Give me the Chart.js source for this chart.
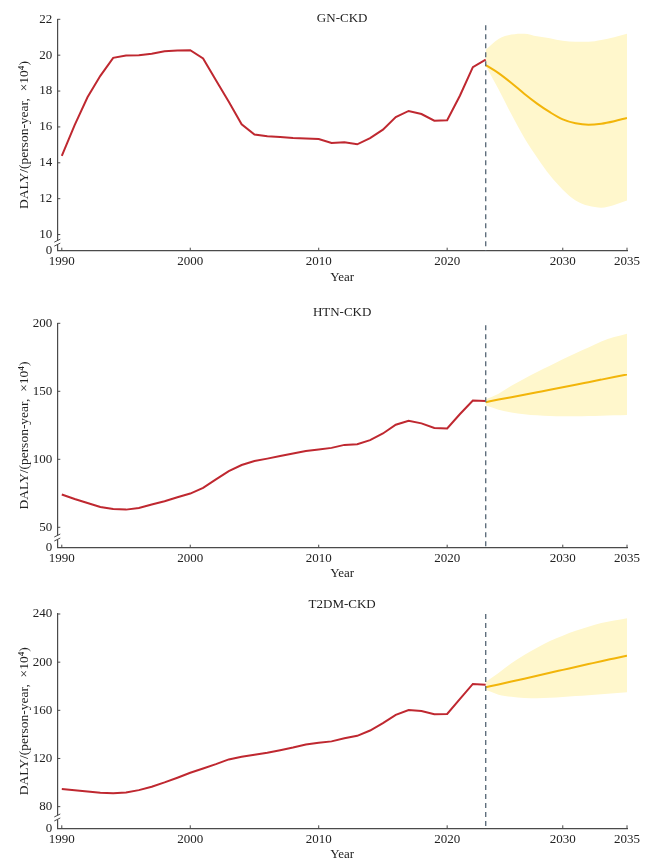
<!DOCTYPE html>
<html>
<head>
<meta charset="utf-8">
<script src="https://cdn.jsdelivr.net/npm/chart.js@4.4.0/dist/chart.umd.min.js"></script>
<style>
  html, body { margin: 0; padding: 0; background: #fff; }
  body { width: 655px; height: 868px; position: relative; overflow: hidden; }
  canvas { position: absolute; left: 0; }
</style>
</head>
<body>
<canvas id="gnChart" width="655" height="290" style="top:0px"></canvas>
<canvas id="htnChart" width="655" height="300" style="top:290px"></canvas>
<canvas id="t2dmChart" width="655" height="288" style="top:580px"></canvas>
<script>
// years
const histYears = Array.from({ length: 34 }, (_, i) => 1990 + i);   // 1990-2023
const fcYears = Array.from({ length: 12 }, (_, i) => 2024 + i);     // 2024-2035
const xTickYears = [1990, 2000, 2010, 2020, 2030, 2035];

// GN-CKD
const gnHist = [14.38, 16.1, 17.65, 18.85, 19.85, 19.98, 20.0, 20.08, 20.22, 20.26,
  20.28, 19.82, 18.6, 17.4, 16.15, 15.58, 15.48, 15.44, 15.38, 15.36,
  15.33, 15.1, 15.15, 15.03, 15.38, 15.85, 16.55, 16.89, 16.72, 16.35,
  16.37, 17.75, 19.33, 19.75];
const gnFc = [19.45, 19.0, 18.45, 17.85, 17.3, 16.82, 16.42, 16.2, 16.12, 16.18, 16.32, 16.5];
const gnLow = [19.4, 18.1, 16.7, 15.4, 14.3, 13.3, 12.5, 11.9, 11.6, 11.5, 11.65, 11.9];
const gnHigh = [20.3, 20.9, 21.15, 21.2, 21.05, 20.95, 20.8, 20.75, 20.75, 20.85, 21.0, 21.2];
const gnTicks = [10, 12, 14, 16, 18, 20, 22];

// HTN-CKD
const htnHist = [74.1, 70.8, 67.9, 64.9, 63.4, 63.0, 64.2, 66.7, 69.1, 72.1,
  74.8, 79.0, 85.2, 91.3, 95.8, 98.7, 100.5, 102.4, 104.2, 106.1,
  107.2, 108.4, 110.6, 111.1, 114.1, 119.0, 125.4, 128.4, 126.4, 123.0,
  122.7, 133.3, 143.2, 142.8];
const htnFc = [142, 143.9, 145.7, 147.5, 149.3, 151.1, 153, 154.8, 156.7, 158.6, 160.5, 162.4];
const htnLow = [139.5, 136.5, 134.5, 133.2, 132.3, 131.8, 131.6, 131.6, 131.8, 132, 132.3, 132.6];
const htnHigh = [144, 148.2, 154, 159.3, 164.2, 168.8, 173.5, 178, 182.2, 186.6, 189.9, 192.4];
const htnTicks = [50, 100, 150, 200];

// T2DM-CKD
const t2dmHist = [94.6, 93.7, 92.6, 91.5, 91.2, 91.8, 93.7, 96.5, 100.1, 104,
  108.1, 111.7, 115.3, 119.2, 121.4, 123, 124.7, 126.9, 129.1, 131.6,
  133, 134.2, 136.8, 138.8, 143.2, 149.3, 156.2, 160.3, 159.5, 156.8,
  157, 169.5, 181.9, 181.3];
const t2dmFc = [179.2, 181.5, 183.9, 186.3, 188.7, 191.2, 193.6, 196, 198.4, 200.8, 203.1, 205.4];
const t2dmLow = [177, 173, 171.2, 170.3, 170.1, 170.4, 171, 171.8, 172.6, 173.4, 174.2, 175];
const t2dmHigh = [183.5, 191, 199, 206, 212, 217.5, 222, 226, 229.5, 232.5, 234.5, 236.5];
const t2dmTicks = [80, 120, 160, 200, 240];

const serif = '"Liberation Serif", "DejaVu Serif", serif';
const textColor = '#222';
const axisColor = '#4a4a4a';
const yTitle = 'DALY/(person-year, \u00a0\u00d710\u2074)';

// the projection starts on the same slot as the last observed year
function slot(year) {
  const last = histYears[histYears.length - 1];
  return year <= last ? year - histYears[0] : year - histYears[0] - 1;
}

function line(ctx, x1, y1, x2, y2) {
  ctx.beginPath();
  ctx.moveTo(x1, y1);
  ctx.lineTo(x2, y2);
  ctx.stroke();
}

// inward ticks, dashed divider, axis break, panel title
const decor = {
  id: 'decor',
  afterDraw(chart, args, opts) {
    const { ctx, chartArea: a, scales: { x, y } } = chart;
    ctx.save();
    ctx.strokeStyle = axisColor;
    ctx.lineWidth = 1;
    y.ticks.forEach((t, i) => {
      if (i === 0) return;
      const py = y.getPixelForValue(t.value);
      line(ctx, a.left, py, a.left + 3, py);
    });
    x.ticks.forEach(t => {
      const px = x.getPixelForValue(t.value);
      line(ctx, px, a.bottom, px, a.bottom - 3);
    });

    // break on the y axis
    const yb = y.getPixelForValue((y.min + y.ticks[1].value) / 2);
    ctx.fillStyle = '#fff';
    ctx.fillRect(a.left - 2, yb - 2, 4, 4);
    ctx.lineWidth = 1;
    line(ctx, a.left - 3, yb - 0.5, a.left + 3, yb - 3.5);
    line(ctx, a.left - 3, yb + 3.5, a.left + 3, yb + 0.5);

    // start of projection
    const px = x.getPixelForValue(slot(fcYears[0]));
    ctx.setLineDash([5, 4]);
    ctx.strokeStyle = '#5f6f7d';
    ctx.lineWidth = 1.4;
    line(ctx, px, a.top + opts.dashTop, px, a.bottom);
    ctx.setLineDash([]);

    ctx.fillStyle = textColor;
    ctx.font = '13px ' + serif;
    ctx.textAlign = 'center';
    ctx.textBaseline = 'middle';
    ctx.fillText(opts.title, (a.left + a.right) / 2, a.top + opts.titleDy);
    ctx.restore();
  }
};

function makePanel(id, cfg) {
  const hist = histYears.map((yr, i) => ({ x: slot(yr), y: cfg.hist[i] }));
  const fc = fcYears.map((yr, i) => ({ x: slot(yr), y: cfg.fc[i] }));
  const low = fcYears.map((yr, i) => ({ x: slot(yr), y: cfg.low[i] }));
  const high = fcYears.map((yr, i) => ({ x: slot(yr), y: cfg.high[i] }));

  new Chart(document.getElementById(id), {
    type: 'line',
    data: {
      datasets: [
        { label: 'Observed', data: hist, borderColor: '#bf2830', borderWidth: 2, pointRadius: 0, tension: 0, fill: false },
        { label: 'Predicted', data: fc, borderColor: '#f2b50a', borderWidth: 2, pointRadius: 0, cubicInterpolationMode: 'monotone', fill: false },
        { label: 'Lower', data: low, borderWidth: 0, borderColor: 'rgba(0,0,0,0)', pointRadius: 0, cubicInterpolationMode: 'monotone', fill: false },
        { label: 'Upper', data: high, borderWidth: 0, borderColor: 'rgba(0,0,0,0)', pointRadius: 0, cubicInterpolationMode: 'monotone', fill: '-1', backgroundColor: '#fff7cc' }
      ]
    },
    options: {
      responsive: false,
      animation: false,
      layout: { padding: { top: cfg.areaTop, left: 0, right: 28, bottom: 0 } },
      plugins: {
        legend: { display: false },
        tooltip: { enabled: false },
        decor: { title: cfg.title, titleDy: cfg.titleDy, dashTop: cfg.dashTop }
      },
      scales: {
        x: {
          type: 'linear',
          min: -0.35,
          max: slot(fcYears[fcYears.length - 1]),
          grid: { display: false, drawTicks: false },
          border: { display: true, color: axisColor, width: 1.2 },
          afterBuildTicks: s => { s.ticks = xTickYears.map(yr => ({ value: slot(yr) })); },
          afterFit: s => { s.height = cfg.height - cfg.areaBottom; },
          ticks: {
            autoSkip: false, maxRotation: 0, padding: 3, color: textColor,
            font: { family: serif, size: 13 },
            callback: (v, i) => String(xTickYears[i])
          },
          title: {
            display: true, text: 'Year', color: textColor,
            font: { family: serif, size: 13 },
            padding: { top: 0, bottom: cfg.yearPad }
          }
        },
        y: {
          min: cfg.yMin,
          max: cfg.yMax,
          grid: { display: false, drawTicks: false },
          border: { display: true, color: axisColor, width: 1.2 },
          afterBuildTicks: s => { s.ticks = [{ value: cfg.yMin }].concat(cfg.ticks.map(v => ({ value: v }))); },
          afterFit: s => { s.width = 57.3; },
          ticks: {
            autoSkip: false, padding: 5, color: textColor,
            font: { family: serif, size: 13 },
            callback: (v, i) => i === 0 ? '0' : String(v)
          },
          title: {
            display: true, text: yTitle, color: textColor,
            font: { family: serif, size: 13.5 },
            padding: { top: 16.5, bottom: 0 }
          }
        }
      }
    },
    plugins: [decor]
  });
}

makePanel('gnChart', {
  title: 'GN-CKD', hist: gnHist, fc: gnFc, low: gnLow, high: gnHigh, ticks: gnTicks,
  yMin: 9.1, yMax: 22, height: 290, areaTop: 19.3, areaBottom: 250.7, yearPad: 4.2,
  titleDy: -1, dashTop: 6
});
makePanel('htnChart', {
  title: 'HTN-CKD', hist: htnHist, fc: htnFc, low: htnLow, high: htnHigh, ticks: htnTicks,
  yMin: 35, yMax: 200, height: 300, areaTop: 33.3, areaBottom: 257.7, yearPad: 8.9,
  titleDy: -10.6, dashTop: 2
});
makePanel('t2dmChart', {
  title: 'T2DM-CKD', hist: t2dmHist, fc: t2dmFc, low: t2dmLow, high: t2dmHigh, ticks: t2dmTicks,
  yMin: 62, yMax: 240, height: 288, areaTop: 34, areaBottom: 248.3, yearPad: 5.2,
  titleDy: -9, dashTop: 0
});
</script>
</body>
</html>
